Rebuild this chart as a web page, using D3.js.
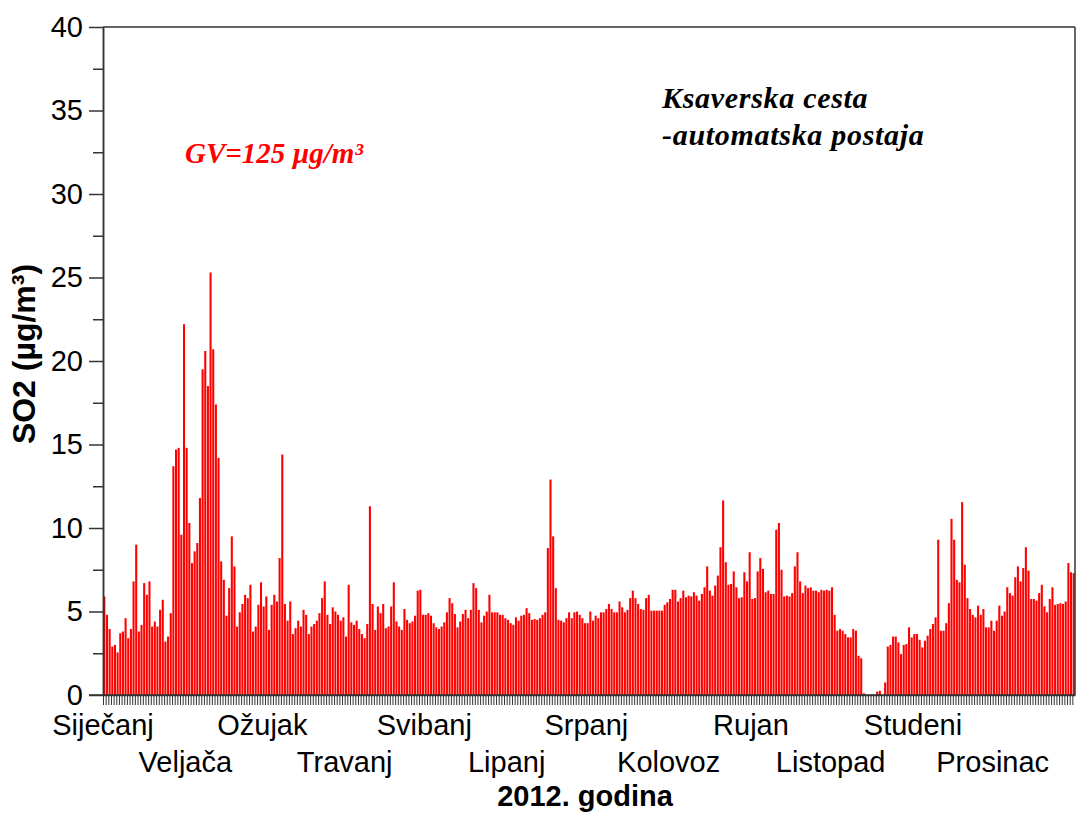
<!DOCTYPE html>
<html>
<head>
<meta charset="utf-8">
<script src="https://cdn.jsdelivr.net/npm/d3@7"></script>
<style>
  body { margin: 0; background: #fff; }
  svg text { font-family: "Liberation Sans", Arial, sans-serif; }
  svg text.serif { font-family: "Liberation Serif", "Times New Roman", serif; font-style: italic; font-weight: bold; }
</style>
</head>
<body>
<div id="chart"></div>
<script>
// daily SO2, Ksaverska cesta 2012 (null = no data)
const so2Daily = [
  // Siječanj
  5.9, 4.8, 3.95, 2.9, 3.0, 2.55, 3.7, 3.8, 4.6, 3.4, 3.95, 6.8, 9.0, 3.8, 4.2, 6.7,
  6.0, 6.8, 4.1, 4.4, 4.1, 5.1, 5.7, 3.2, 3.5, 4.9, 13.7, 14.7, 14.8, 9.6, 22.2,
  // Veljača
  14.8, 10.3, 7.9, 8.6, 9.1, 11.8, 19.5, 20.6, 18.5, 25.3, 20.7, 17.4, 14.2, 8.0, 6.9,
  4.75, 6.4, 9.5, 7.7, 4.1, 4.95, 5.45, 6.0, 5.8, 6.6, 3.8, 4.1, 5.4, 6.75,
  // Ožujak
  5.3, 5.9, 3.9, 5.4, 6.0, 5.6, 8.2, 14.4, 5.45, 4.45, 5.6, 3.65, 4.0, 4.45, 4.1, 5.1,
  4.8, 3.65, 4.1, 4.25, 4.45, 4.9, 5.8, 6.8, 4.8, 4.25, 5.25, 5.0, 4.8, 4.45, 4.65,
  // Travanj
  3.5, 6.6, 4.35, 4.2, 4.45, 3.95, 3.65, 3.4, 4.25, 11.3, 5.45, 3.9, 5.3, 4.9, 5.45,
  4.0, 4.1, 5.3, 6.75, 4.4, 4.1, 3.9, 5.15, 4.5, 4.3, 4.4, 4.75, 6.25, 6.3, 4.8,
  // Svibanj
  4.8, 4.9, 4.75, 4.3, 4.05, 3.95, 4.1, 4.35, 4.95, 5.8, 5.5, 4.85, 4.05, 4.4, 4.85,
  5.1, 4.6, 5.1, 6.7, 6.4, 5.1, 4.35, 4.75, 5.0, 6.0, 4.95, 4.95, 4.95, 4.8, 4.8, 4.6,
  // Lipanj
  4.5, 4.3, 4.2, 4.65, 4.45, 4.75, 4.8, 5.2, 4.9, 4.5, 4.55, 4.5, 4.6, 4.8, 4.95,
  8.8, 12.9, 9.5, 6.4, 4.5, 4.45, 4.35, 4.6, 4.95, 4.6, 4.95, 5.0, 4.8, 4.6, 4.3,
  // Srpanj
  4.3, 5.0, 4.45, 4.75, 4.6, 4.95, 4.95, 5.15, 5.45, 5.15, 4.95, 4.95, 5.6, 5.25, 4.95,
  5.1, 5.8, 6.25, 5.8, 5.45, 5.15, 5.1, 5.8, 6.0, 5.05, 5.05, 5.05, 5.05, 5.05, 5.4, 5.55,
  // Kolovoz
  5.75, 6.3, 6.3, 5.6, 5.8, 6.25, 5.85, 5.95, 5.9, 6.15, 5.95, 5.65, 6.05, 6.45, 7.7,
  6.25, 5.95, 6.55, 7.15, 8.85, 11.65, 7.95, 6.6, 6.65, 7.4, 6.45, 5.8, 5.85, 7.35, 6.8, 8.55,
  // Rujan
  5.75, 5.8, 7.4, 8.2, 7.55, 6.15, 6.25, 6.05, 6.05, 9.9, 10.3, 7.5, 5.9, 5.95, 5.9,
  6.1, 7.7, 8.55, 6.8, 6.1, 6.55, 6.4, 6.45, 6.25, 6.25, 6.15, 6.3, 6.25, 6.3, 6.25,
  // Listopad
  6.45, 4.8, 3.85, 3.95, 3.85, 3.65, 3.45, 3.45, 3.95, 3.85, 2.35, 2.2, 0.1, null, null,
  null, null, 0.2, 0.25, null, 0.75, 2.9, 3.0, 3.5, 3.5, 3.15, 2.45, 3.0, 3.05, 4.05, 3.45,
  // Studeni
  3.65, 3.65, 3.3, 2.85, 3.25, 3.55, 3.95, 4.25, 4.65, 9.3, 3.85, 3.85, 4.3, 5.5, 10.55,
  9.3, 6.9, 6.75, 11.55, 7.8, 5.8, 5.15, 4.8, 4.65, 5.35, 4.8, 5.15, 4.05, 4.05, 4.45,
  // Prosinac
  3.85, 4.45, 5.35, 4.75, 5.0, 6.45, 6.1, 5.95, 7.05, 7.7, 6.8, 7.6, 8.85, 7.45, 5.75,
  5.75, 5.65, 6.1, 6.6, 5.3, 4.95, 5.75, 6.45, 5.4, 5.45, 5.5, 5.45, 5.6, 7.9, 7.35, 7.3
];

const monthNames = ["Siječanj", "Veljača", "Ožujak", "Travanj", "Svibanj", "Lipanj",
  "Srpanj", "Kolovoz", "Rujan", "Listopad", "Studeni", "Prosinac"];
const yMajorTicks = [0, 5, 10, 15, 20, 25, 30, 35, 40];
const yMinorTicks = [2.5, 7.5, 12.5, 17.5, 22.5, 27.5, 32.5, 37.5];

const width = 1087, height = 814;
const plotLeft = 103, plotRight = 1075, plotTop = 27, plotBottom = 695;
const axisColor = "#333";

const svg = d3.select("#chart").append("svg")
    .attr("width", width)
    .attr("height", height);

const start = new Date(Date.UTC(2012, 0, 1));
const end = new Date(Date.UTC(2013, 0, 1));
const days = d3.utcDays(start, end);

const x = d3.scaleUtc().domain([start, end]).range([plotLeft, plotRight]);
const y = d3.scaleLinear().domain([0, 40]).range([plotBottom, plotTop]);

const dayW = x(days[1]) - x(days[0]);

// bars
svg.append("g")
  .selectAll("rect")
  .data(days.map((d, i) => ({ date: d, value: so2Daily[i] })).filter(d => d.value != null))
  .enter().append("rect")
    .attr("x", d => x(d.date) + 0.3)
    .attr("y", d => y(d.value))
    .attr("width", dayW * 0.78)
    .attr("height", d => plotBottom - y(d.value))
    .attr("fill", "#ff0000");

// frame: top and right
svg.append("line")
    .attr("x1", plotLeft).attr("x2", plotRight).attr("y1", plotTop).attr("y2", plotTop)
    .attr("stroke", axisColor).attr("stroke-width", 1.5);
svg.append("line")
    .attr("x1", plotRight).attr("x2", plotRight).attr("y1", plotTop).attr("y2", plotBottom)
    .attr("stroke", axisColor).attr("stroke-width", 1.5);

// y axis, major
const yAxis = svg.append("g")
    .attr("transform", `translate(${plotLeft},0)`)
    .call(d3.axisLeft(y).tickValues(yMajorTicks).tickSize(14).tickSizeOuter(0).tickPadding(6));
yAxis.selectAll("text")
    .style("font-size", "29px")
    .attr("fill", "#000");

// y axis, minor
svg.append("g")
    .attr("transform", `translate(${plotLeft},0)`)
    .call(d3.axisLeft(y).tickValues(yMinorTicks).tickSize(10).tickSizeOuter(0).tickFormat(""));

// x axis: one tick per day
const xAxis = svg.append("g")
    .attr("transform", `translate(0,${plotBottom})`)
    .call(d3.axisBottom(x).tickValues(days).tickSize(10).tickSizeOuter(0).tickFormat(""));

svg.selectAll(".domain, .tick line")
    .attr("stroke", axisColor)
    .attr("stroke-width", 1.5);
xAxis.selectAll(".tick line").attr("stroke-width", 1);

// baseline extended to the "0" tick
svg.append("line")
    .attr("x1", plotLeft - 14).attr("x2", plotRight).attr("y1", plotBottom).attr("y2", plotBottom)
    .attr("stroke", axisColor).attr("stroke-width", 1.5);

// month labels, alternating rows
svg.append("g")
  .selectAll("text")
  .data(d3.utcMonths(start, end))
  .enter().append("text")
    .attr("x", d => x(d))
    .attr("y", (d, i) => i % 2 === 0 ? 735 : 772)
    .attr("text-anchor", "middle")
    .style("font-size", "29px")
    .text((d, i) => monthNames[i]);

// axis titles
svg.append("text")
    .attr("x", 585)
    .attr("y", 806)
    .attr("text-anchor", "middle")
    .style("font-size", "29px")
    .style("font-weight", "bold")
    .text("2012. godina");

svg.append("text")
    .attr("transform", "translate(35,354) rotate(-90)")
    .attr("text-anchor", "middle")
    .style("font-size", "32px")
    .style("font-weight", "bold")
    .text("SO2 (µg/m³)");

// annotations
svg.append("text")
    .attr("class", "serif")
    .attr("x", 185).attr("y", 163)
    .attr("fill", "#ff0000")
    .style("font-size", "29px")
    .text("GV=125 µg/m³");

svg.append("text")
    .attr("class", "serif")
    .attr("x", 662).attr("y", 108)
    .style("font-size", "30px")
    .style("letter-spacing", "0.7px")
    .text("Ksaverska cesta");

svg.append("text")
    .attr("class", "serif")
    .attr("x", 662).attr("y", 145)
    .style("font-size", "30px")
    .style("letter-spacing", "0.7px")
    .text("-automatska postaja");
</script>
</body>
</html>
